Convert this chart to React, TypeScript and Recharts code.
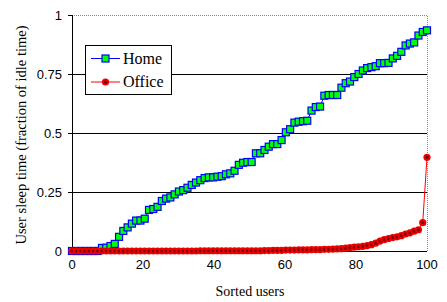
import React from "react";
import {
  LineChart,
  Line,
  XAxis,
  YAxis,
  ReferenceLine,
} from "recharts";

// sleep time per user, users sorted by value (84 users)
const homeSleep = [
  0, 0, 0, 0, 0, 0, 0,
  0.013, 0.014, 0.021, 0.03, 0.06, 0.085, 0.1, 0.116, 0.129, 0.129, 0.137,
  0.174, 0.178, 0.187, 0.212, 0.222, 0.227, 0.24, 0.252, 0.258, 0.268, 0.28,
  0.29, 0.3, 0.309, 0.312, 0.312, 0.315, 0.317, 0.325, 0.329, 0.34, 0.365,
  0.374, 0.377, 0.377, 0.414, 0.414, 0.428, 0.442, 0.453, 0.453, 0.47, 0.503,
  0.516, 0.544, 0.548, 0.55, 0.552, 0.595, 0.61, 0.612, 0.658, 0.661, 0.661,
  0.661, 0.692, 0.711, 0.718, 0.737, 0.75, 0.765, 0.775, 0.779, 0.783, 0.796,
  0.796, 0.797, 0.816, 0.827, 0.844, 0.871, 0.879, 0.884, 0.913, 0.928, 0.935,
];

const officeSleep = [
  0, 0, 0, 0, 0, 0, 0, 0, 0, 0, 0, 0, 0, 0, 0, 0, 0, 0, 0, 0, 0, 0, 0, 0, 0,
  0, 0, 0, 0, 0,
  0.001, 0.001, 0.001, 0.001, 0.001, 0.001, 0.001, 0.001, 0.001, 0.001, 0.001,
  0.001, 0.001, 0.001, 0.001,
  0.002, 0.002, 0.003, 0.003, 0.003, 0.004, 0.004, 0.004,
  0.005, 0.005, 0.005, 0.006, 0.006, 0.006, 0.007, 0.007,
  0.008, 0.009, 0.01, 0.012, 0.014, 0.016, 0.018, 0.02, 0.023, 0.027, 0.033,
  0.042, 0.048, 0.053, 0.057, 0.06, 0.065, 0.072, 0.077, 0.084, 0.09, 0.12,
  0.397,
];

const xTicks = [0, 20, 40, 60, 80, 100];
const yTicks = [0, 0.25, 0.5, 0.75, 1];
const gridLines = [0.25, 0.5, 0.75];

// x = rank of the user, as percent of all users
const data = homeSleep.map((home, i) => ({
  rank: (i * 100) / (homeSleep.length - 1),
  home,
  office: officeSleep[i],
}));

const SANS = "'Liberation Sans', Arial, sans-serif";
const SERIF = "'Liberation Serif', 'Times New Roman', serif";

function SquareDot(props: any) {
  const { cx, cy } = props;
  if (cx == null || cy == null) return null;
  return (
    <rect
      x={cx - 3.5}
      y={cy - 3.5}
      width={7}
      height={7}
      fill="#00ff00"
      stroke="#0000ff"
      strokeWidth={1.2}
    />
  );
}

function RoundDot(props: any) {
  const { cx, cy } = props;
  if (cx == null || cy == null) return null;
  return (
    <g>
      <circle cx={cx} cy={cy} r={3.6} fill="#ee0000" />
      <circle cx={cx} cy={cy} r={1.6} fill="#7a0000" />
    </g>
  );
}

function LegendBox() {
  return (
    <div
      style={{
        position: "absolute",
        left: 85,
        top: 45,
        width: 87,
        height: 50,
        border: "1px solid #000",
        background: "#fff",
        boxSizing: "border-box",
        fontFamily: SERIF,
        fontSize: 16,
        color: "#000",
      }}
    >
      <svg width={36} height={48} style={{ position: "absolute", left: 4, top: 0 }}>
        <line x1={1} y1={12.5} x2={30} y2={12.5} stroke="#0000ff" />
        <rect x={12} y={9} width={7} height={7} fill="#00ff00" stroke="#0000ff" strokeWidth={1.2} />
        <line x1={1} y1={36} x2={30} y2={36} stroke="#ff0000" />
        <circle cx={15.5} cy={36} r={3.6} fill="#ee0000" />
        <circle cx={15.5} cy={36} r={1.6} fill="#7a0000" />
      </svg>
      <div style={{ position: "absolute", left: 37, top: 3, lineHeight: "20px" }}>Home</div>
      <div style={{ position: "absolute", left: 37, top: 26, lineHeight: "20px" }}>Office</div>
    </div>
  );
}

export default function App() {
  return (
    <div style={{ width: 447, height: 302, position: "relative", background: "#fff" }}>
      <style>{"body{margin:0}"}</style>
      <LineChart
        width={447}
        height={302}
        data={data}
        margin={{ top: 15, right: 20, bottom: 21, left: 0 }}
      >
        <XAxis
          type="number"
          dataKey="rank"
          domain={[0, 100]}
          ticks={xTicks}
          tickLine={false}
          tickMargin={3}
          axisLine={{ stroke: "#000", shapeRendering: "crispEdges" }}
          tick={{ fontSize: 13, fontFamily: SANS, fill: "#000" }}
          height={30}
          label={{
            content: () => (
              <text
                x={250}
                y={296}
                textAnchor="middle"
                fontFamily={SERIF}
                fontSize={14}
                fill="#000"
              >
                Sorted users
              </text>
            ),
          }}
        />
        <YAxis
          type="number"
          domain={[0, 1]}
          ticks={yTicks}
          width={72}
          tickSize={4}
          tickMargin={6}
          axisLine={{ stroke: "#000", shapeRendering: "crispEdges" }}
          tickLine={{ stroke: "#000", shapeRendering: "crispEdges" }}
          tick={{ fontSize: 13, fontFamily: SANS, fill: "#000" }}
          label={{
            content: () => (
              <text
                x={21}
                y={135}
                transform="rotate(-90 21 135)"
                textAnchor="middle"
                dominantBaseline="central"
                fontFamily={SERIF}
                fontSize={14.5}
                fill="#000"
              >
                User sleep time (fraction of idle time)
              </text>
            ),
          }}
        />
        {gridLines.map((v) => (
          <ReferenceLine key={v} y={v} stroke="#000" strokeWidth={1} shapeRendering="crispEdges" />
        ))}
        <ReferenceLine y={1} stroke="#888" strokeDasharray="1 1" shapeRendering="crispEdges" />
        <ReferenceLine x={100} stroke="#888" strokeDasharray="1 1" shapeRendering="crispEdges" />
        <Line
          dataKey="home"
          name="Home"
          stroke="#0000ff"
          strokeWidth={1}
          dot={<SquareDot />}
          activeDot={false}
          isAnimationActive={false}
        />
        <Line
          dataKey="office"
          name="Office"
          stroke="#ff0000"
          strokeWidth={1}
          dot={<RoundDot />}
          activeDot={false}
          isAnimationActive={false}
        />
      </LineChart>
      <LegendBox />
    </div>
  );
}
